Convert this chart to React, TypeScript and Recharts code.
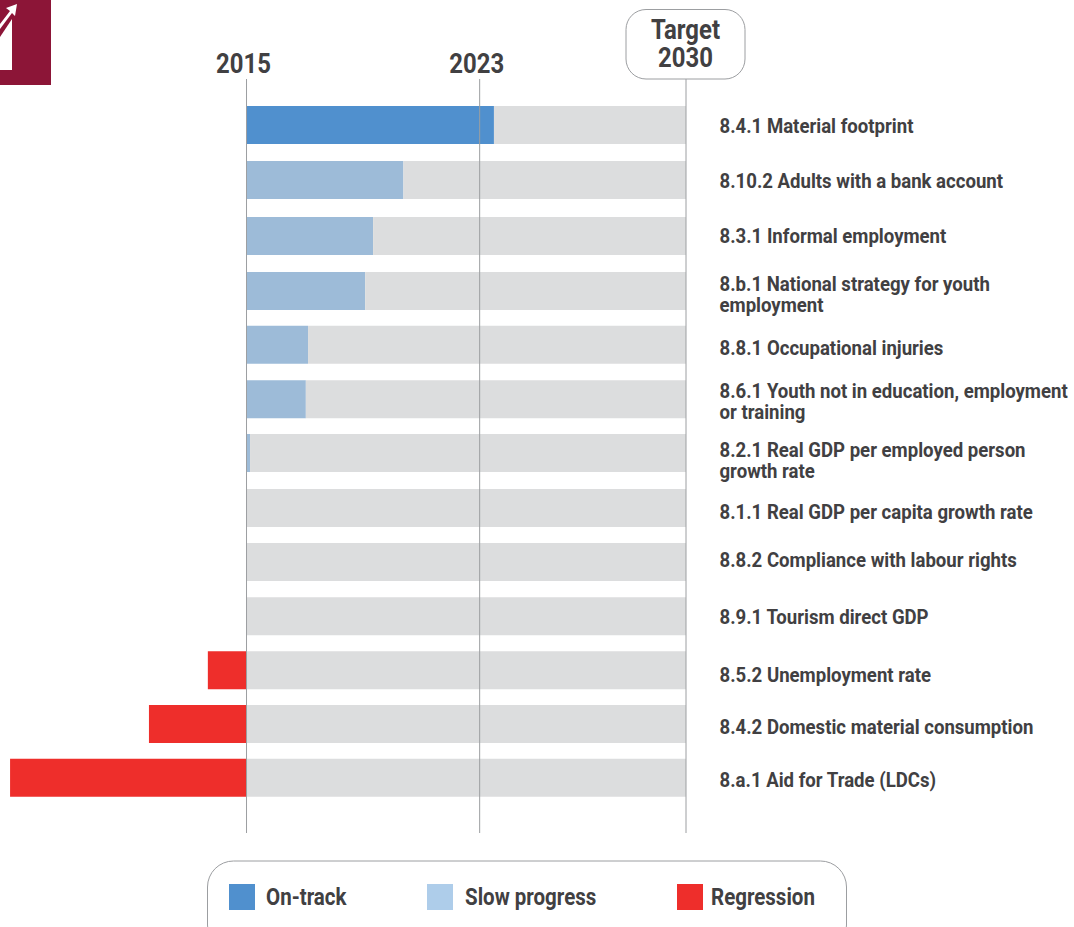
import React from "react";
import { BarChart, Bar, XAxis, YAxis, ReferenceLine, Legend } from "recharts";

// --- data ---
const indicators = [
  "8.4.1 Material footprint",
  "8.10.2 Adults with a bank account",
  "8.3.1 Informal employment",
  "8.b.1 National strategy for youth|employment",
  "8.8.1 Occupational injuries",
  "8.6.1 Youth not in education, employment|or training",
  "8.2.1 Real GDP per employed person|growth rate",
  "8.1.1 Real GDP per capita growth rate",
  "8.8.2 Compliance with labour rights",
  "8.9.1 Tourism direct GDP",
  "8.5.2 Unemployment rate",
  "8.4.2 Domestic material consumption",
  "8.a.1 Aid for Trade (LDCs)",
];
const onTrack = [56.3, 0, 0, 0, 0, 0, 0, 0, 0, 0, 0, 0, 0];
const slowProgress = [0, 35.7, 28.8, 27, 14, 13.5, 0.8, 0, 0, 0, 0, 0, 0];
const regression = [0, 0, 0, 0, 0, 0, 0, 0, 0, 0, -8.8, -22.2, -53.8];
const milestones = [
  { value: 0, label: "2015" },
  { value: 53.05, label: "2023" },
];
const targetValue = 100;
const targetLabel = ["Target", "2030"];
const legendLabels = ["On-track", "Slow progress", "Regression"];

// --- layout tables (row spacing in the source is slightly uneven) ---
const rowPositions = [1, 2.01, 3.04, 4.05, 5.04, 6.04, 7.03, 8.04, 9.03, 10.03, 11.02, 12.01, 13];
const labelNudge = [1, 1, 0, 3, 3, 2, 7, 4, -2, 1, 5, 3, 2];
const legendColors = ["#5090CE", "#AECDEA", "#EE2E2B"];
const legendSwatchX = [229, 427, 677];
const legendTextX = [266, 465, 711];

const rows = indicators.map((name, i) => ({
  name,
  pos: rowPositions[i],
  onTrack: onTrack[i],
  slow: slowProgress[i],
  regression: regression[i],
  remainder: 100 - onTrack[i] - slowProgress[i],
}));

const FONT = "Roboto, sans-serif";
const INK = "#414042";
const RULE = "#9C9EA1";
const LINE_GAP = 21;

const Squeezed = ({ x, y, size, anchor = "start", squeeze = 0.855, children }: any) => (
  <text
    transform={`translate(${x},${y}) scale(${squeeze},1)`}
    fontFamily={FONT}
    fontWeight={700}
    fontSize={size}
    fill={INK}
    textAnchor={anchor}
  >
    {children}
  </text>
);

const RowTick = ({ y, index }: any) => {
  const lines = indicators[index].split("|");
  const centre = y + labelNudge[index];
  const first = centre + 7 - ((lines.length - 1) * 20) / 2;
  return (
    <g>
      {lines.map((line: string, i: number) => (
        <Squeezed key={i} x={719.5} y={first + i * LINE_GAP} size={20} squeeze={0.93}>
          {line}
        </Squeezed>
      ))}
    </g>
  );
};

const YearLabel = (text: string) => (props: any) => (
  <Squeezed x={props.viewBox.x - 3} y={73} size={28} anchor="middle">
    {text}
  </Squeezed>
);

const TargetLabel = (props: any) => {
  const x = props.viewBox.x;
  return (
    <g>
      <rect x={x - 60} y={9.5} width={119} height={69.5} rx={20} fill="#fff" stroke={RULE} strokeWidth={1} />
      {targetLabel.map((t, i) => (
        <Squeezed key={t} x={x - 0.5} y={39 + i * 28} size={28} anchor="middle">
          {t}
        </Squeezed>
      ))}
    </g>
  );
};

const LegendBox = () => (
  <svg width={1074} height={927} style={{ position: "absolute", left: 0, top: 0 }}>
    <rect x={207.5} y={861} width={639} height={90} rx={26} fill="none" stroke={RULE} strokeWidth={1} />
    {legendLabels.map((label, i) => (
      <g key={label}>
        <rect x={legendSwatchX[i]} y={884} width={26} height={26} fill={legendColors[i]} />
        <Squeezed x={legendTextX[i]} y={905} size={24}>
          {label}
        </Squeezed>
      </g>
    ))}
  </svg>
);

const Badge = () => (
  <svg width={51} height={85} style={{ position: "absolute", left: 0, top: 0 }}>
    <rect width={51} height={85} fill="#8C1537" />
    <polygon points="0,37 12,19 12,70 0,70" fill="#fff" />
    <polygon points="0,24 10,11 6,8 17,4 15,16 12,13 0,29" fill="#fff" />
  </svg>
);

export default function App() {
  return (
    <div style={{ position: "absolute", left: 0, top: 0, width: 1074, height: 927, overflow: "hidden", background: "#fff" }}>
      <BarChart
        width={1074}
        height={927}
        data={rows}
        layout="vertical"
        stackOffset="sign"
        margin={{ top: 79, right: 0, bottom: 94, left: 4.8 }}
        barSize={38}
      >
        <XAxis type="number" dataKey="remainder" domain={[-55, 100]} hide allowDataOverflow />
        <YAxis
          type="number"
          dataKey="pos"
          orientation="right"
          domain={[0.154, 14.015]}
          ticks={rowPositions}
          interval={0}
          width={388}
          axisLine={false}
          tickLine={false}
          tick={<RowTick />}
          allowDataOverflow
        />
        <Legend verticalAlign="middle" layout="horizontal" wrapperStyle={{ left: 0, top: 0, width: 1074, height: 927 }} content={<LegendBox />} />
        <Bar dataKey="onTrack" stackId="p" fill="#5090CE" isAnimationActive={false} />
        <Bar dataKey="slow" stackId="p" fill="#9DBBD8" isAnimationActive={false} />
        <Bar dataKey="regression" stackId="p" fill="#EE2E2B" isAnimationActive={false} />
        <Bar dataKey="remainder" stackId="p" fill="#DCDDDE" isAnimationActive={false} legendType="none" />
        {milestones.map((m) => (
          <ReferenceLine key={m.label} x={m.value} stroke={RULE} strokeWidth={1} label={YearLabel(m.label)} />
        ))}
        <ReferenceLine x={targetValue} stroke={RULE} strokeWidth={1} label={TargetLabel} />
      </BarChart>
      <Badge />
    </div>
  );
}
